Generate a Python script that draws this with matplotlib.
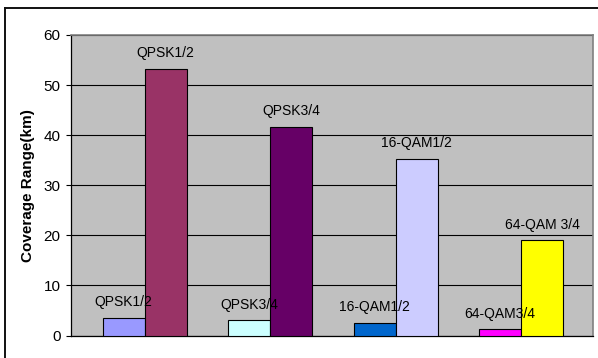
import matplotlib
matplotlib.use("Agg")
import matplotlib.pyplot as plt
import numpy as np
from matplotlib.lines import Line2D

plt.rcParams['font.family'] = ['Liberation Sans', 'DejaVu Sans']

groups = ["QPSK1/2", "QPSK3/4", "16-QAM1/2", "64-QAM3/4"]
short_values = [3.5, 3.0, 2.5, 1.2]
tall_values = [53.3, 41.6, 35.3, 19.0]
short_labels = ["QPSK1/2", "QPSK3/4", "16-QAM1/2", "64-QAM3/4"]
tall_labels = ["QPSK1/2", "QPSK3/4", "16-QAM1/2", "64-QAM 3/4"]
short_colors = ["#9999FF", "#CCFFFF", "#0066CC", "#FF00FF"]
tall_colors = ["#993366", "#660066", "#CCCCFF", "#FFFF00"]
yticks = [0, 10, 20, 30, 40, 50, 60]
ylabel = "Coverage Range(km)"

W, H = 598, 358
fig = plt.figure(figsize=(W / 100, H / 100), dpi=100)
ax = fig.add_axes([71 / W, (H - 335.5) / H, (593 - 71) / W, (335.5 - 35) / H])
ax.set_facecolor("#C0C0C0")

x = np.arange(len(groups))
w = 0.335
ax.bar(x - w / 2, short_values, width=w, color=short_colors,
       edgecolor="black", linewidth=0.8, zorder=3)
ax.bar(x + w / 2, tall_values, width=w, color=tall_colors,
       edgecolor="black", linewidth=0.8, zorder=3)

for xi, v, lab in zip(x - w / 2, short_values, short_labels):
    ax.annotate(lab, (xi, v), xytext=(0, 8.5), textcoords="offset points",
                ha="center", va="baseline", fontsize=10, zorder=5)
for xi, v, lab in zip(x + w / 2, tall_values, tall_labels):
    ax.annotate(lab, (xi, v), xytext=(0, 8.5), textcoords="offset points",
                ha="center", va="baseline", fontsize=10, zorder=5)

ax.set_xlim(-0.588, 3.574)
ax.set_ylim(0, 60)
ax.set_yticks(yticks)
ax.set_xticks([])
ax.yaxis.grid(True, color="black", linewidth=0.8, zorder=1)
ax.set_axisbelow(True)
ax.tick_params(axis="y", direction="out", length=3.6, width=0.8,
               labelsize=11, pad=4, color="black")
for s in ["left", "bottom"]:
    ax.spines[s].set_color("black")
    ax.spines[s].set_linewidth(0.9)
for s in ["top", "right"]:
    ax.spines[s].set_color("#808080")
    ax.spines[s].set_linewidth(1.2)

ax.set_ylabel(ylabel, fontsize=11, fontweight="bold", labelpad=6)

# outer chart border (left & top)
fig.add_artist(Line2D([5 / W, 5 / W], [0, 1 - 7.5 / H], color="#111111",
                      linewidth=1.4, transform=fig.transFigure))
fig.add_artist(Line2D([5 / W, 1], [1 - 7.5 / H, 1 - 7.5 / H], color="#111111",
                      linewidth=1.4, transform=fig.transFigure))

fig.savefig("out.png", dpi=100, facecolor="white")
